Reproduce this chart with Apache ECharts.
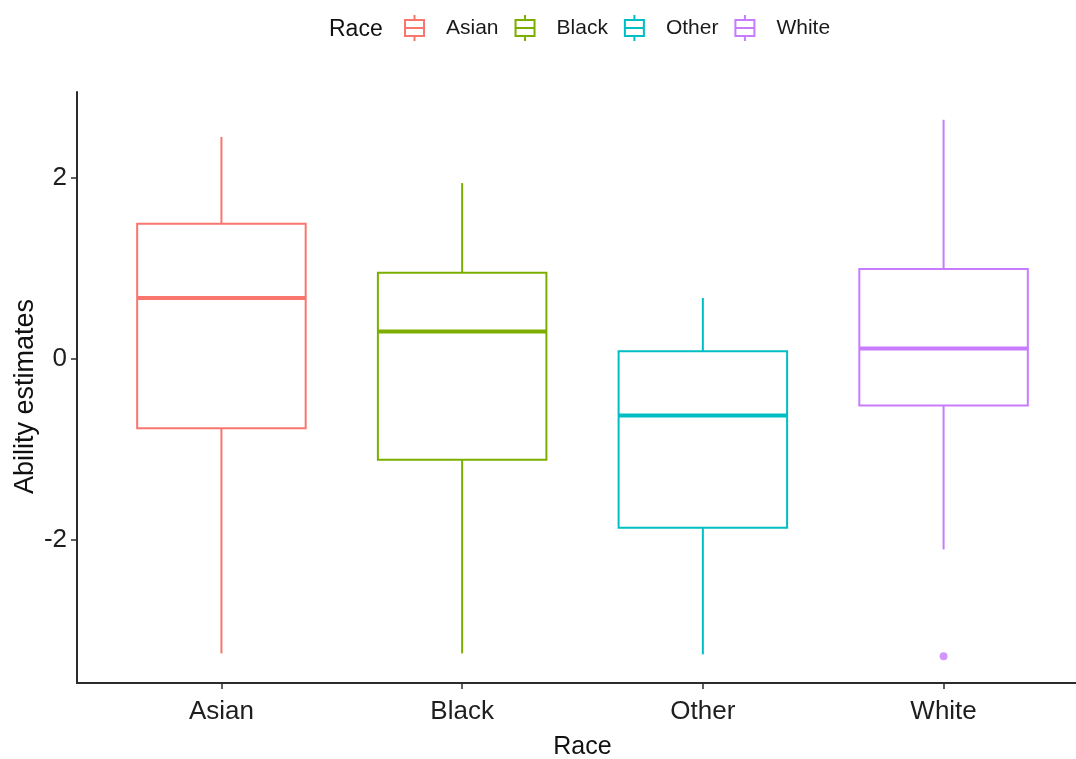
<!DOCTYPE html>
<html>
<head>
<meta charset="utf-8">
<title>Ability estimates by race</title>
<script src="https://cdn.jsdelivr.net/npm/echarts@6/dist/echarts.min.js"></script>
<style>
  html, body { margin: 0; padding: 0; background: #ffffff; }
  #chart { width: 1076px; height: 759px; }
</style>
</head>
<body>
<div id="chart"></div>
<script>
// Box-plot summaries of ability estimates per race group
const categories = ['Asian', 'Black', 'Other', 'White'];
const lowerWhisker = [-3.26, -3.26, -3.27, -2.11];
const q1 = [-0.77, -1.12, -1.87, -0.52];
const median = [0.67, 0.30, -0.63, 0.11];
const q3 = [1.49, 0.95, 0.08, 0.99];
const upperWhisker = [2.45, 1.94, 0.67, 2.64];
// Points beyond the whiskers: [group, value]
const outliers = [['White', -3.29]];
const yTicks = [-2, 0, 2];

const colors = ['#F8766D', '#7CAE00', '#00BFC4', '#C77CFF'];
const FONT = '"Liberation Sans", Arial, sans-serif';
const BOX_WIDTH = 0.70;

// box glyph for the legend: whisker stubs, box and median line
const legendIcon = 'path://M10.5,0 L10.5,5 M1,5 L20,5 L20,21 L1,21 Z M1,13 L20,13 M10.5,21 L10.5,26';

function renderBox(params, api) {
  const x = api.value(0);
  const pLo = api.coord([x, api.value(1)]);
  const pQ1 = api.coord([x, api.value(2)]);
  const pMed = api.coord([x, api.value(3)]);
  const pQ3 = api.coord([x, api.value(4)]);
  const pHi = api.coord([x, api.value(5)]);
  const w = api.size([BOX_WIDTH, 0])[0];
  const cx = pMed[0];
  const color = api.visual('color');
  const lineStyle = { stroke: color, lineWidth: 2, fill: null };
  return {
    type: 'group',
    children: [
      { type: 'line', shape: { x1: cx, y1: pQ3[1], x2: cx, y2: pHi[1] }, style: lineStyle },
      { type: 'line', shape: { x1: cx, y1: pQ1[1], x2: cx, y2: pLo[1] }, style: lineStyle },
      { type: 'rect', shape: { x: cx - w / 2, y: pQ3[1], width: w, height: pQ1[1] - pQ3[1] },
        style: { stroke: color, lineWidth: 2, fill: '#ffffff' } },
      { type: 'line', shape: { x1: cx - w / 2, y1: pMed[1], x2: cx + w / 2, y2: pMed[1] },
        style: { stroke: color, lineWidth: 4 } }
    ]
  };
}

const boxSeries = categories.map((name, i) => ({
  name: name,
  type: 'custom',
  renderItem: renderBox,
  itemStyle: { color: colors[i] },
  encode: { x: 0, y: [1, 2, 3, 4, 5] },
  data: [[i, lowerWhisker[i], q1[i], median[i], q3[i], upperWhisker[i]]],
  z: 2
}));

const outlierSeries = {
  name: 'White',
  type: 'scatter',
  symbol: 'circle',
  symbolSize: 8,
  itemStyle: { color: colors[3] },
  data: outliers.map(o => [categories.indexOf(o[0]), o[1]]),
  z: 3
};

const chart = echarts.init(document.getElementById('chart'), null, { renderer: 'canvas' });

chart.setOption({
  animation: false,
  backgroundColor: '#ffffff',
  textStyle: { fontFamily: FONT },
  title: {
    text: 'Race',
    left: 329,
    top: 18,
    padding: 0,
    textStyle: { fontFamily: FONT, fontSize: 23, fontWeight: 'normal', color: '#111111' }
  },
  legend: {
    left: 404,
    top: 14,
    padding: 0,
    itemWidth: 21,
    itemHeight: 26,
    itemGap: 16,
    selectedMode: false,
    textStyle: { fontFamily: FONT, fontSize: 21, color: '#1a1a1a', padding: [2, 0, 0, 16] },
    data: categories.map((name, i) => ({
      name: name,
      icon: legendIcon,
      itemStyle: { color: 'transparent', borderColor: colors[i], borderWidth: 2 }
    }))
  },
  // the discrete axis runs from -0.6 to 3.6; its right end lies past the canvas edge
  grid: { left: 77, top: 92, width: 1011, height: 591, containLabel: false, outerBoundsMode: 'none' },
  xAxis: {
    type: 'value',
    min: -0.6,
    max: 3.6,
    name: 'Race',
    nameLocation: 'middle',
    nameGap: 52,
    nameMoveOverlap: false,
    nameTextStyle: { fontFamily: FONT, fontSize: 25, color: '#111111' },
    axisLine: { show: true, onZero: false, lineStyle: { color: '#2b2b2b', width: 2 } },
    axisTick: { show: true, length: 6, customValues: [0, 1, 2, 3], lineStyle: { color: '#2b2b2b', width: 1.5 } },
    axisLabel: {
      customValues: [0, 1, 2, 3],
      formatter: v => categories[Math.round(v)],
      margin: 16,
      fontFamily: FONT,
      fontSize: 26,
      color: '#1e1e1e'
    },
    splitLine: { show: false }
  },
  yAxis: {
    type: 'value',
    min: -3.587,
    max: 2.947,
    name: 'Ability estimates',
    nameLocation: 'middle',
    nameGap: 38,
    nameMoveOverlap: false,
    nameTextStyle: { fontFamily: FONT, fontSize: 27, color: '#111111', padding: [0, 18, 0, 0] },
    axisLine: { show: true, onZero: false, lineStyle: { color: '#2b2b2b', width: 2 } },
    axisTick: { show: true, length: 6, customValues: yTicks, lineStyle: { color: '#2b2b2b', width: 1.5 } },
    axisLabel: {
      customValues: yTicks,
      margin: 10,
      fontFamily: FONT,
      fontSize: 26,
      color: '#1e1e1e'
    },
    splitLine: { show: false }
  },
  series: boxSeries.concat([outlierSeries])
});
</script>
</body>
</html>
